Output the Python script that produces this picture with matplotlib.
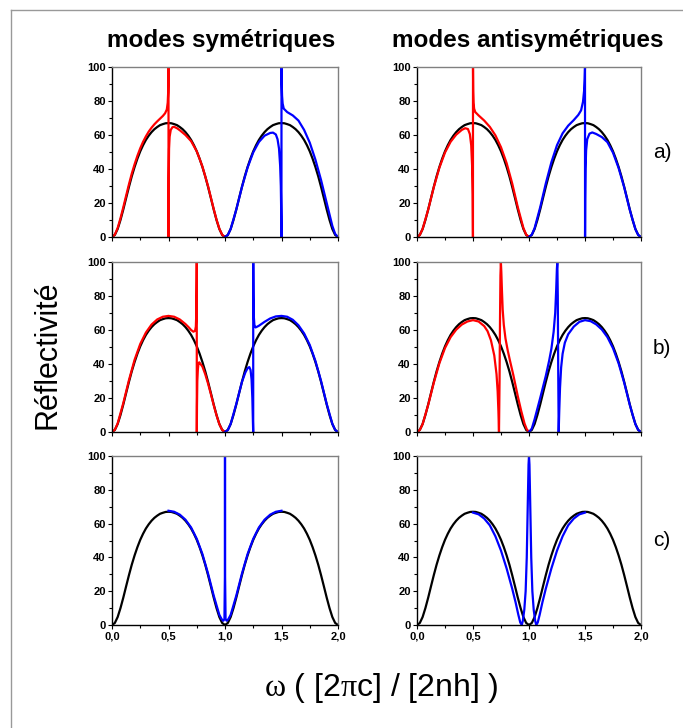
import numpy as np
import matplotlib
matplotlib.use('Agg')
import matplotlib.pyplot as plt
from matplotlib.lines import Line2D
from matplotlib.ticker import MultipleLocator

plt.rcParams['font.family'] = ['Liberation Sans', 'DejaVu Sans']
plt.rcParams['mathtext.fontset'] = 'custom'
plt.rcParams['mathtext.rm'] = 'Liberation Serif'

# reference reflectivity (black), read every 0.025
black_x = np.round(np.arange(0, 2.0001, 0.025), 3)
black_y = [0, 1.2, 4.7, 10.0, 16.2, 22.9, 29.5, 35.7, 41.2, 46.1, 50.4, 54.0, 57.1, 59.6, 61.7,
           63.4, 64.7, 65.8, 66.4, 66.9, 67.0, 66.9, 66.4, 65.8, 64.7, 63.4, 61.7, 59.6, 57.1,
           54.0, 50.4, 46.1, 41.2, 35.7, 29.5, 22.9, 16.2, 10.0, 4.7, 1.2, 0,
           1.2, 4.7, 10.0, 16.2, 22.9, 29.5, 35.7, 41.2, 46.1, 50.4, 54.0, 57.1, 59.6, 61.7,
           63.4, 64.7, 65.8, 66.4, 66.9, 67.0, 66.9, 66.4, 65.8, 64.7, 63.4, 61.7, 59.6, 57.1,
           54.0, 50.4, 46.1, 41.2, 35.7, 29.5, 22.9, 16.2, 10.0, 4.7, 1.2, 0]

# a) symetrique
a_sym_red_x = [0, 0.025, 0.05, 0.075, 0.1, 0.125, 0.15, 0.175, 0.2, 0.225, 0.25, 0.275, 0.3, 0.325,
               0.35, 0.375, 0.4, 0.425, 0.45, 0.47, 0.485, 0.493, 0.497, 0.499, 0.5, 0.5005, 0.502,
               0.505, 0.51, 0.52, 0.535, 0.55, 0.575, 0.6, 0.625, 0.65, 0.675, 0.7, 0.75, 0.8, 0.85,
               0.875, 0.9, 0.925, 0.95, 0.975, 1.0]
a_sym_red_y = [0, 1.4, 5.3, 11.0, 17.5, 24.3, 31.0, 37.3, 42.8, 47.8, 52.2, 56.0, 59.2, 62.0,
               64.3, 66.3, 68.0, 69.6, 71.2, 72.8, 75.0, 79.0, 85.0, 93.0, 100, 0, 35,
               52, 59, 63, 64.6, 64.8, 64.0, 62.8, 61.4, 60.0, 58.2, 56.4, 50.4, 41.5, 29.9,
               23.2, 16.5, 10.2, 4.9, 1.3, 0]
a_sym_blue_x = [1.0, 1.025, 1.05, 1.1, 1.15, 1.2, 1.25, 1.3, 1.35, 1.4, 1.425, 1.45, 1.465, 1.478,
                1.488, 1.494, 1.498, 1.4995, 1.5, 1.502, 1.505, 1.51, 1.52, 1.55, 1.6, 1.65, 1.7,
                1.75, 1.8, 1.85, 1.9, 1.95, 1.975, 2.0]
a_sym_blue_y = [0, 1.2, 4.7, 16.2, 29.4, 40.9, 49.8, 55.9, 59.6, 61.2, 61.4, 60.3, 57.5, 52.0,
                42.0, 30.0, 12.0, 0, 100, 90, 83, 78.5, 75.5, 73.5, 71.5, 68.5, 63.0,
                55.5, 45.5, 33.5, 20.0, 6.5, 1.8, 0]

# a) antisymetrique
a_anti_red_x = [0, 0.025, 0.05, 0.1, 0.15, 0.2, 0.25, 0.3, 0.35, 0.4, 0.43, 0.455, 0.472, 0.484,
                0.492, 0.497, 0.4995, 0.5, 0.502, 0.505, 0.51, 0.52, 0.55, 0.6, 0.65, 0.7, 0.75,
                0.8, 0.85, 0.9, 0.95, 0.975, 1.0]
a_anti_red_y = [0, 1.2, 4.7, 16.1, 29.3, 40.8, 49.7, 56.0, 60.2, 63.0, 64.0, 63.5, 60.5, 54.0,
                42.0, 25.0, 0, 100, 86, 79, 75.5, 73.5, 71.5, 68.5, 64.8, 59.8, 52.8,
                43.5, 31.5, 17.5, 5.3, 1.4, 0]
a_anti_blue_x = [1.0, 1.025, 1.05, 1.1, 1.15, 1.2, 1.25, 1.3, 1.35, 1.4, 1.44, 1.465, 1.482, 1.492,
                 1.497, 1.5, 1.5005, 1.502, 1.505, 1.51, 1.52, 1.54, 1.565, 1.6, 1.65, 1.7, 1.75,
                 1.8, 1.85, 1.9, 1.95, 1.975, 2.0]
a_anti_blue_y = [0, 1.4, 5.2, 17.5, 31.5, 44.0, 54.0, 61.0, 65.5, 68.8, 71.8, 74.5, 79.5, 86.0,
                 93.0, 100, 0, 22, 40, 51, 57.5, 60.8, 61.5, 60.6, 58.8, 55.8, 49.6,
                 40.6, 29.2, 15.9, 4.6, 1.2, 0]

# b) symetrique
b_sym_red_x = [0, 0.025, 0.05, 0.1, 0.15, 0.2, 0.25, 0.3, 0.35, 0.4, 0.45, 0.5, 0.55, 0.6, 0.65,
               0.68, 0.7, 0.72, 0.735, 0.742, 0.746, 0.749, 0.75, 0.7505, 0.752, 0.755, 0.76,
               0.765, 0.772, 0.78, 0.8, 0.825, 0.85, 0.875, 0.9, 0.925, 0.95, 0.975, 1.0]
b_sym_red_y = [0, 1.3, 5.0, 17.0, 30.5, 42.5, 51.8, 58.5, 63.2, 66.2, 67.8, 68.3, 67.8, 66.2, 63.5,
               61.5, 60.0, 59.0, 59.5, 62.0, 70.0, 90.0, 100, 0, 15, 30, 37,
               40, 41, 40.3, 38.5, 34.0, 28.5, 22.3, 15.8, 9.8, 4.6, 1.2, 0]
b_sym_blue_x = [1.0, 1.025, 1.05, 1.1, 1.15, 1.18, 1.2, 1.215, 1.226, 1.235, 1.242, 1.247, 1.2495,
                1.25, 1.252, 1.255, 1.26, 1.27, 1.28, 1.3, 1.35, 1.4, 1.45, 1.5, 1.55, 1.6, 1.65,
                1.7, 1.75, 1.8, 1.85, 1.9, 1.95, 1.975, 2.0]
b_sym_blue_y = [0, 1.2, 4.7, 16.5, 29.5, 35.0, 37.5, 38.2, 36.5, 31.0, 20.0, 6.0, 0,
                100, 80, 68, 63, 61.5, 61.8, 62.5, 64.8, 66.8, 68.0, 68.3, 67.8, 66.0, 62.8,
                58.0, 51.2, 41.8, 30.0, 16.5, 4.8, 1.2, 0]

# b) antisymetrique
b_anti_red_x = [0, 0.025, 0.05, 0.1, 0.15, 0.2, 0.25, 0.3, 0.35, 0.4, 0.45, 0.5, 0.55, 0.6, 0.63,
                0.66, 0.69, 0.71, 0.72, 0.727, 0.732, 0.737, 0.741, 0.745, 0.749, 0.753, 0.758,
                0.765, 0.775, 0.79, 0.81, 0.83, 0.86, 0.9, 0.93, 0.96, 0.98, 1.0]
b_anti_red_y = [0, 1.2, 4.6, 16.0, 29.0, 40.5, 49.4, 55.8, 60.2, 63.2, 65.0, 65.8, 65.0, 62.3, 59.3,
                54.0, 45.0, 34.0, 24.0, 12.0, 0, 30, 65, 92, 100, 94, 84,
                72, 63, 55, 48, 42, 33.5, 21.0, 12.5, 5.0, 1.6, 0]
b_anti_blue_x = [1.0, 1.025, 1.05, 1.1, 1.15, 1.18, 1.2, 1.22, 1.234, 1.243, 1.249, 1.253, 1.257,
                 1.261, 1.265, 1.27, 1.277, 1.287, 1.3, 1.32, 1.35, 1.4, 1.45, 1.5, 1.55, 1.6,
                 1.65, 1.7, 1.75, 1.8, 1.85, 1.9, 1.95, 1.975, 2.0]
b_anti_blue_y = [0, 2.0, 7.5, 20.0, 33.0, 42.0, 49.0, 59.0, 70.0, 84.0, 96.0, 100, 80,
                 35, 0, 12, 26, 38, 46, 52.5, 57.5, 62.0, 64.8, 65.8, 65.2, 63.3,
                 60.3, 55.8, 49.3, 40.4, 29.0, 15.9, 4.6, 1.2, 0]

# c) symetrique
c_sym_blue_x = [0.5, 0.55, 0.6, 0.65, 0.7, 0.75, 0.8, 0.85, 0.9, 0.93, 0.95, 0.97, 0.985, 0.995,
                0.9993, 1.0, 1.0007, 1.005, 1.015, 1.03, 1.05, 1.07, 1.1, 1.15, 1.2, 1.25, 1.3,
                1.35, 1.4, 1.45, 1.5]
c_sym_blue_y = [67.6, 67.0, 65.3, 62.3, 57.7, 51.0, 42.0, 30.4, 17.4, 10.5, 6.0, 3.5, 2.5, 3.5,
                30, 100, 30, 3.5, 2.5, 3.5, 6.0, 10.5, 17.4, 30.4, 42.0, 51.0, 57.7,
                62.3, 65.3, 67.0, 67.6]

# c) antisymetrique
c_anti_blue_x = [0.5, 0.55, 0.6, 0.65, 0.7, 0.75, 0.8, 0.85, 0.88, 0.905, 0.922, 0.935, 0.945,
                 0.958, 0.97, 0.98, 0.99, 0.996, 1.0, 1.004, 1.01, 1.02, 1.03, 1.042, 1.055,
                 1.065, 1.078, 1.095, 1.12, 1.15, 1.2, 1.25, 1.3, 1.35, 1.4, 1.45, 1.5]
c_anti_blue_y = [66.5, 65.5, 63.0, 59.0, 52.5, 44.0, 33.5, 21.5, 13.5, 6.0, 1.5, 0, 2.5,
                 9.0, 20.0, 40.0, 75.0, 95.0, 100, 95.0, 75.0, 40.0, 20.0, 9.0, 2.5,
                 0, 1.5, 6.0, 13.5, 21.5, 33.5, 44.0, 52.5, 59.0, 63.0, 65.5, 66.5]

col_titles = ['modes symétriques', 'modes antisymétriques']
row_labels = ['a)', 'b)', 'c)']
x_ticklabels = ['0,0', '0,5', '1,0', '1,5', '2,0']
y_ticks = [0, 20, 40, 60, 80, 100]

panels = [
    [[(a_sym_red_x, a_sym_red_y, 'r'), (a_sym_blue_x, a_sym_blue_y, 'b')],
     [(a_anti_red_x, a_anti_red_y, 'r'), (a_anti_blue_x, a_anti_blue_y, 'b')]],
    [[(b_sym_red_x, b_sym_red_y, 'r'), (b_sym_blue_x, b_sym_blue_y, 'b')],
     [(b_anti_red_x, b_anti_red_y, 'r'), (b_anti_blue_x, b_anti_blue_y, 'b')]],
    [[(c_sym_blue_x, c_sym_blue_y, 'b')],
     [(c_anti_blue_x, c_anti_blue_y, 'b')]],
]

W, H = 683, 728
fig = plt.figure(figsize=(W / 100, H / 100), dpi=100)

col_left = [112, 417]
col_w = [226, 224]
row_top = [67, 262, 456]
row_h = [170, 170, 169]

for r in range(3):
    for c in range(2):
        ax = fig.add_axes([col_left[c] / W, 1 - (row_top[r] + row_h[r]) / H,
                           col_w[c] / W, row_h[r] / H])
        ax.plot(black_x, black_y, color='black', lw=1.6)
        for xs, ys, col in panels[r][c]:
            ax.plot(xs, ys, color={'r': '#ff0000', 'b': '#0000ff'}[col], lw=1.6)
        ax.set_xlim(0, 2)
        ax.set_ylim(0, 100)
        ax.set_yticks(y_ticks)
        ax.yaxis.set_minor_locator(MultipleLocator(10))
        ax.set_xticks([0, 0.5, 1.0, 1.5, 2.0])
        ax.xaxis.set_minor_locator(MultipleLocator(0.25))
        if r == 2:
            ax.set_xticklabels(x_ticklabels)
        else:
            ax.set_xticklabels([])
        ax.tick_params(which='major', direction='out', length=3, width=0.8, labelsize=8, pad=1.5)
        ax.tick_params(which='minor', direction='out', length=2, width=0.8)
        for lab in ax.get_xticklabels() + ax.get_yticklabels():
            lab.set_fontweight('bold')
        ax.spines['top'].set_color('#808080')
        ax.spines['right'].set_color('#808080')
        for s in ax.spines.values():
            s.set_linewidth(1.0)

fig.text(221 / W, 1 - 41 / H, col_titles[0], ha='center', va='center', fontsize=17.5, fontweight='bold')
fig.text(528 / W, 1 - 41 / H, col_titles[1], ha='center', va='center', fontsize=17.5, fontweight='bold')
for lab, yy in zip(row_labels, [152, 348, 540]):
    fig.text(662 / W, 1 - yy / H, lab, ha='center', va='center', fontsize=15)
fig.text(48 / W, 1 - 355 / H, 'Réflectivité', rotation=90, ha='center', va='center', fontsize=22)
fig.text(381 / W, 1 - 688 / H, r'$\mathrm{\omega}$ ( [2$\mathrm{\pi}$c] / [2nh] )',
         ha='center', va='center', fontsize=23)

# light frame around the figure
fig.add_artist(Line2D([11 / W, 11 / W], [0, 1 - 10 / H], transform=fig.transFigure, color='#999999', lw=1))
fig.add_artist(Line2D([11 / W, 1], [1 - 10 / H, 1 - 10 / H], transform=fig.transFigure, color='#999999', lw=1))

fig.savefig('out.png', dpi=100)
